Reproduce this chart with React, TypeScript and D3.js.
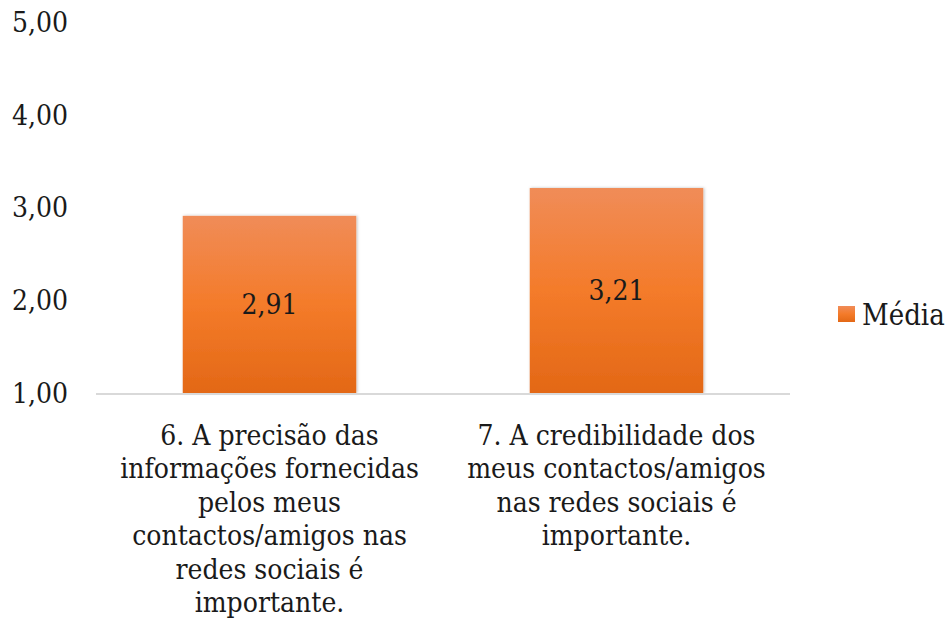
import React from "react";
import * as d3 from "d3";

const categories = [
  ["6. A precisão das", "informações fornecidas", "pelos meus", "contactos/amigos nas", "redes sociais é", "importante."],
  ["7. A credibilidade dos", "meus contactos/amigos", "nas redes sociais é", "importante."],
];
const values = [2.91, 3.21];
const yTicks = [1, 2, 3, 4, 5];
const seriesName = "Média";

const W = 952, H = 620;
const FONT = "'DejaVu Serif Condensed', 'DejaVu Serif', serif";

export default function App() {
  const x = d3.scaleBand<number>().domain(d3.range(values.length)).range([96, 790]).paddingInner(0.5).paddingOuter(0.25);
  const y = d3.scaleLinear().domain([1, 5]).range([393, 22]);
  const fmt = (v: number) => v.toFixed(2).replace(".", ",");
  const ts = { fontFamily: FONT, fontStretch: "condensed" as const };
  return (
    <svg width={W} height={H} style={{ position: "absolute", left: 0, top: 0, background: "#fff" }}>
      <defs>
        <linearGradient id="g" x1="0" y1="0" x2="0" y2="1">
          <stop offset="0" stopColor="#F08C58" />
          <stop offset="0.5" stopColor="#F47B2A" />
          <stop offset="1" stopColor="#E36816" />
        </linearGradient>
        <filter id="sh" x="-10%" y="-10%" width="120%" height="120%">
          <feDropShadow dx="1" dy="0" stdDeviation="1.5" floodColor="#000" floodOpacity="0.25" />
        </filter>
      </defs>
      {yTicks.map((t) => (
        <text key={t} x={68} y={y(t)} dy="0.35em" textAnchor="end" style={ts} fontSize={28} fill="#1a1a1a">
          {fmt(t)}
        </text>
      ))}
      {values.map((v, i) => (
        <g key={i}>
          <rect x={x(i)} y={y(v)} width={x.bandwidth()} height={y(1) - y(v)} fill="url(#g)" filter="url(#sh)" />
          <text x={(x(i) as number) + x.bandwidth() / 2} y={(y(v) + y(1)) / 2} dy="0.35em" textAnchor="middle" style={ts} fontSize={28} fill="#1a1a1a">
            {fmt(v)}
          </text>
        </g>
      ))}
      <line x1={96} x2={790} y1={y(1) + 1} y2={y(1) + 1} stroke="#d9d9d9" strokeWidth={2} />
      {categories.map((lines, i) => (
        <text key={i} textAnchor="middle" style={ts} fontSize={28} fill="#1a1a1a">
          {lines.map((l, j) => (
            <tspan key={j} x={(x(i) as number) + x.bandwidth() / 2} y={445 + j * 33.4}>{l}</tspan>
          ))}
        </text>
      ))}
      <rect x={838} y={306} width={17} height={16} fill="url(#g)" />
      <text x={862} y={325} style={ts} fontSize={29} fill="#1a1a1a">{seriesName}</text>
    </svg>
  );
}
